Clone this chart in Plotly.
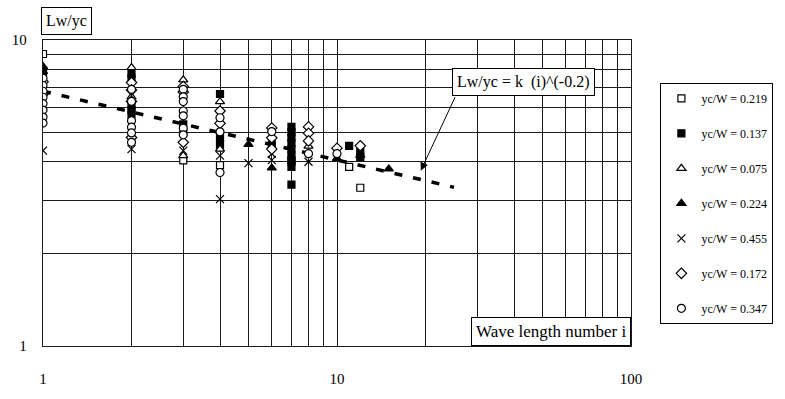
import plotly.graph_objects as go

# ---- data ----
labels = ["yc/W = 0.219", "yc/W = 0.137", "yc/W = 0.075", "yc/W = 0.224",
          "yc/W = 0.455", "yc/W = 0.172", "yc/W = 0.347"]

i_219 = [1, 3, 4, 7, 11, 12]
y_219 = [9.0, 4.04, 3.90, 4.05, 3.85, 3.29]

i_137 = [1, 2, 2, 2, 2, 2, 3, 3, 4, 4, 4, 6, 7, 7, 7, 7, 7, 7, 7, 7, 7, 11, 12, 12]
y_137 = [7.8, 7.75, 7.5, 6.1, 5.9, 5.7, 5.3, 5.0, 6.66, 4.8, 4.55, 4.56,
         5.2, 5.0, 4.8, 4.6, 4.4, 4.2, 4.0, 3.85, 3.37, 4.51, 4.3, 4.15]

i_075 = [1, 2, 2, 3, 3, 4, 4, 8]
y_075 = [8.2, 8.13, 6.52, 7.41, 4.19, 6.29, 4.40, 4.5]

i_224 = [1, 1, 5, 6, 10, 12, 15]
y_224 = [8.13, 7.9, 4.56, 3.82, 4.10, 4.2, 3.79]

i_455 = [1, 2, 3, 4, 4, 5, 6, 6, 8]
y_455 = [4.35, 4.40, 4.35, 4.19, 3.02, 3.96, 4.25, 4.05, 4.00]

i_172 = [1, 1, 2, 2, 2, 2, 3, 3, 3, 4, 4, 6, 6, 6, 8, 8, 8, 10, 12]
y_172 = [7.3, 6.65, 7.26, 6.86, 6.3, 4.80, 7.05, 6.76, 4.63, 5.86, 5.34,
         5.16, 4.79, 4.40, 5.20, 4.96, 4.68, 4.43, 4.51]

i_347 = [1, 1, 1, 1, 1, 1, 1, 1, 2, 2, 2, 2, 2, 2, 3, 3, 3, 3, 3, 3, 3, 4, 4, 4, 6, 8, 10]
y_347 = [7.5, 7.1, 6.8, 6.5, 6.2, 5.9, 5.6, 5.35, 6.9, 6.3, 5.45, 5.19, 4.97, 4.63,
         6.9, 6.52, 6.29, 5.86, 5.65, 5.15, 4.90, 5.57, 5.01, 3.69, 5.02, 4.25, 4.25]

fit_i = [1, 25]
fit_y = [6.8, 3.3]

x_tickvals = [1, 2, 3, 4, 5, 6, 7, 8, 9, 10, 20, 30, 40, 50, 60, 70, 80, 90, 100]
x_ticktext = ["1", "", "", "", "", "", "", "", "", "10", "", "", "", "", "", "", "", "", "100"]
y_tickvals = [1, 2, 3, 4, 5, 6, 7, 8, 9, 10]
y_ticktext = ["1", "", "", "", "", "", "", "", "", "10"]

series = [
    (i_219, y_219, "square", "white", 7),
    (i_137, y_137, "square", "black", 7),
    (i_075, y_075, "triangle-up", "white", 8),
    (i_224, y_224, "triangle-up", "black", 8),
    (i_455, y_455, "x-thin", "black", 8),
    (i_172, y_172, "diamond", "white", 8),
    (i_347, y_347, "circle", "white", 8),
]

FONT = "Liberation Serif"
fig = go.Figure()

fig.add_trace(go.Scatter(x=fit_i, y=fit_y, mode="lines", showlegend=False,
                         line=dict(color="black", width=3.5, dash="8px,11px")))

for k, (xs, ys, sym, fill, sz) in enumerate(series):
    fig.add_trace(go.Scatter(
        x=xs, y=ys, mode="markers", name=labels[k], legendgroup=labels[k],
        marker=dict(symbol=sym, size=sz, color=fill,
                    line=dict(color="black", width=1.2)),
    ))

grid = dict(showgrid=True, gridcolor="#1a1a1a", gridwidth=1.3,
            showline=True, linecolor="#1a1a1a", linewidth=1.3, mirror=True,
            zeroline=False, ticks="",
            tickfont=dict(family=FONT, size=15, color="black"))

fig.update_xaxes(type="log", range=[0, 2], tickmode="array",
                 tickvals=x_tickvals, ticktext=x_ticktext,
                 ticklabelstandoff=19, **grid)
fig.update_yaxes(type="log", range=[0, 1], tickmode="array",
                 tickvals=y_tickvals, ticktext=y_ticktext,
                 ticklabelstandoff=12, **grid)

fig.add_annotation(xref="paper", yref="paper", x=-0.003, y=1.062,
                   xanchor="left", yanchor="middle", text="Lw/yc",
                   showarrow=False, bgcolor="white", bordercolor="black",
                   borderwidth=1, borderpad=4,
                   font=dict(family=FONT, size=16, color="black"))
fig.add_annotation(xref="paper", yref="paper", x=1.0, y=0.0,
                   xanchor="right", yanchor="bottom", text="Wave length number i",
                   showarrow=False, bgcolor="white", bordercolor="black",
                   borderwidth=1, borderpad=4,
                   font=dict(family=FONT, size=17, color="black"))
fig.add_annotation(xref="x", yref="y", x=1.634, y=0.864,
                   xanchor="center", yanchor="middle", text="Lw/yc = k  (i)^(-0.2)",
                   showarrow=False, bgcolor="white", bordercolor="black",
                   borderwidth=1, borderpad=4,
                   font=dict(family=FONT, size=16, color="black"))
fig.add_annotation(xref="x", yref="y", x=1.285, y=0.573, text="",
                   showarrow=True, ax=35, ay=-75, arrowhead=2, arrowsize=1.6,
                   arrowwidth=1, arrowcolor="black")

fig.update_layout(
    width=785, height=399,
    margin=dict(l=39, r=150, t=40, b=36),
    paper_bgcolor="white", plot_bgcolor="white",
    font=dict(family=FONT, color="black"),
    legend=dict(x=1.05, y=0.86, xanchor="left", yanchor="top",
                bordercolor="black", borderwidth=1, bgcolor="white",
                tracegroupgap=16, font=dict(family=FONT, size=12, color="black")),
)

fig.write_html("out.html")
